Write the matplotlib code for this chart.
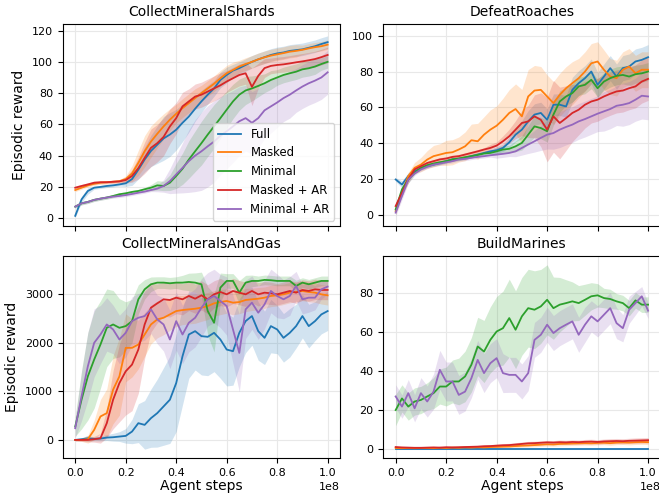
import numpy as np
import matplotlib
matplotlib.use("Agg")
import matplotlib.pyplot as plt

# x grid (agent steps) shared by all series: 0 .. 1e8 in 41 samples
steps = np.linspace(0, 1e8, 41)

labels = ["Full", "Masked", "Minimal", "Masked + AR", "Minimal + AR"]
colors = ["#1f77b4", "#ff7f0e", "#2ca02c", "#d62728", "#9467bd"]

# ---------------- CollectMineralShards ----------------
cms_full = [1.5, 12, 17.4, 19.5, 20, 20.6, 21, 21.6, 22.3, 25, 31, 37.5, 43, 47, 51, 53.5, 56.6, 61, 65, 70,
            74.7, 79, 83, 88.4, 91.6, 94.4, 96, 98, 100, 101.6, 103, 104.4, 105.4, 106, 107, 107.5, 108, 109, 110, 111.4, 112.6]
cms_masked = [18, 19.5, 21, 22, 22.7, 23, 23.3, 23.7, 25, 28.6, 35.4, 42.8, 49, 54, 58.7, 63, 66.8, 70.4, 73.6, 76.8,
              80, 83, 86, 89.5, 92.7, 94.8, 97, 98.6, 100, 101.6, 102.9, 104, 104.8, 105.6, 106.5, 107, 107.7, 108.6, 109.4, 110, 111]
cms_minimal = [7.4, 9.5, 10.4, 11.7, 12.5, 13.2, 14.2, 15.3, 15.9, 16.8, 17.4, 18.5, 19.5, 21, 20.6, 22.7, 27, 31.6, 37.5, 42.8,
               48, 53.5, 58.7, 64, 69.4, 74.7, 79, 81.7, 83, 84.6, 86.3, 88.4, 90, 91.6, 92.7, 93.7, 95.2, 95.9, 97, 98.6, 100]
cms_masked_ar = [19.5, 20.6, 21.6, 22.7, 23, 23, 23.3, 23.5, 24.4, 27, 32, 38.6, 45, 48, 52, 58.7, 64, 71.5, 74.7, 77.8,
                 79, 81, 83, 85, 87.4, 89.5, 91.6, 92.7, 84, 91, 96, 97.4, 98, 98.4, 99, 99.7, 100.3, 101, 101.8, 103, 104.4]
cms_minimal_ar = [7.4, 9.5, 10.4, 11.7, 12.5, 13.2, 13.8, 14.2, 14.8, 15.5, 16.3, 17, 18, 18.9, 20.6, 23.7, 28, 32.2, 36.5, 40,
                  42.8, 46, 49, 52.8, 55.6, 58.7, 62, 64, 61, 64, 69, 71.5, 74, 76.8, 79, 81.7, 84.2, 86.3, 88, 90, 93.3]
cms_full_sd = [1, 2, 2, 1, 1, 1, 1, 1, 2, 4, 6, 8, 10, 12, 14, 14, 13, 12, 10, 8, 7, 6, 5, 5, 5, 4, 4, 4, 4, 4,
               4, 4, 4, 4, 4, 4, 4, 4, 4, 4, 4]
cms_masked_sd = [1, 1, 1, 1, 1, 1, 1, 1, 2, 5, 8, 10, 10, 9, 8, 7, 6, 6, 6, 6, 5, 5, 5, 5, 5, 5, 4, 4, 4, 4,
                 4, 4, 4, 4, 4, 4, 3, 3, 3, 3, 3]
cms_minimal_sd = [1, 1, 1, 1, 1, 1, 1, 1, 1, 1, 1, 1, 2, 3, 3, 5, 8, 10, 12, 13, 14, 14, 14, 13, 12, 11, 10, 9, 8, 7,
                  6, 6, 5, 5, 5, 5, 5, 5, 5, 4, 4]
cms_masked_ar_sd = [1, 1, 1, 1, 1, 1, 1, 1, 2, 4, 7, 10, 12, 12, 12, 11, 10, 9, 8, 8, 8, 8, 8, 8, 7, 7, 7, 7, 12, 8,
                    6, 5, 5, 5, 5, 5, 5, 5, 5, 5, 5]
cms_minimal_ar_sd = [1, 1, 1, 1, 1, 1, 1, 1, 1, 1, 1, 1, 1, 2, 4, 8, 12, 16, 20, 23, 25, 26, 26, 25, 24, 23, 22, 21, 20, 19,
                     18, 17, 16, 15, 15, 14, 14, 14, 14, 14, 14]

# ---------------- DefeatRoaches ----------------
dr_full = [19.8, 17, 21.7, 24.4, 26, 27.2, 28.1, 29, 30, 31, 31.3, 31.9, 32.8, 33.7, 34.6, 35.5, 36.1, 37.4, 40.5, 44.8,
           47.6, 52.2, 56, 56.9, 53.1, 61.5, 61.5, 60.5, 69.8, 73.5, 76.3, 80, 72.6, 77.2, 81.9, 77.2, 81.9, 82.8, 85.6, 86.5, 88]
dr_masked = [2.2, 12.4, 21.7, 26.3, 28.1, 30.9, 32.8, 33.7, 34.6, 35, 36.5, 38.3, 41.7, 41.1, 44.8, 47.6, 49.8, 53.1, 56.9, 59.1,
             55, 66.1, 69.4, 69.8, 66.1, 62.4, 67, 70.7, 73.5, 76.3, 80, 84.6, 85.6, 81, 77.2, 76.3, 81, 82.8, 79, 81, 81]
dr_minimal = [3.1, 14.3, 19.8, 23.5, 26.3, 27.8, 28.7, 29.4, 30, 31, 31.5, 32.2, 32.8, 33.5, 34.3, 34.6, 35.5, 36.5, 36.9, 38.3,
              40.2, 44.8, 49.4, 48.5, 46.7, 56, 63.3, 66.1, 68, 71.7, 72.6, 75.4, 70.7, 74.4, 76.3, 77.6, 78.1, 77.2, 78.5, 79, 80]
dr_masked_ar = [5, 12.4, 19.8, 25.4, 27.2, 29, 30, 31, 31.5, 32.4, 32.8, 33.7, 34.6, 35.5, 36.5, 37.4, 38.7, 41.1, 43.9, 47.6,
                51.3, 52.2, 55, 53.1, 47.6, 55, 51.3, 54, 56.9, 58.7, 61.5, 63.3, 64.3, 66.1, 67.6, 68.9, 69.4, 70.7, 71.7, 74.4, 75.9]
dr_minimal_ar = [1.3, 10.6, 19.8, 23.1, 25.4, 26.9, 28.1, 28.7, 29.4, 30, 31, 31.3, 31.9, 32.4, 32.8, 33.3, 33.7, 34.1, 34.6, 35.5,
                 37.4, 39.3, 41.1, 43, 44.8, 45.7, 47.6, 49.1, 50.4, 52.2, 53.5, 55, 56.5, 57.8, 59.1, 60.9, 61.5, 62.4, 64.3, 66.5, 66.1]
dr_full_sd = [1, 2, 2, 1, 1, 1, 1, 1, 1, 1, 1, 1, 1, 1, 1, 1, 2, 2, 3, 4, 5, 6, 6, 6, 6, 6, 6, 6, 7, 7,
              7, 7, 7, 7, 7, 7, 7, 7, 7, 7, 7]
dr_masked_sd = [2, 2, 2, 3, 4, 5, 6, 6, 7, 7, 7, 8, 9, 10, 10, 11, 11, 12, 13, 14, 15, 15, 14, 13, 12, 12, 12, 12, 12, 11,
                11, 11, 11, 11, 10, 10, 10, 10, 10, 10, 10]
dr_minimal_sd = [2, 2, 2, 1, 1, 1, 1, 1, 1, 1, 1, 1, 1, 1, 1, 1, 2, 2, 2, 3, 4, 5, 6, 6, 6, 6, 6, 5, 5, 5,
                 5, 5, 5, 5, 5, 5, 5, 5, 5, 5, 5]
dr_masked_ar_sd = [2, 2, 2, 1, 1, 1, 1, 1, 1, 1, 1, 1, 1, 1, 1, 2, 2, 3, 4, 5, 7, 9, 12, 15, 18, 20, 20, 18, 16, 14,
                   13, 12, 12, 12, 12, 12, 12, 12, 12, 12, 12]
dr_minimal_ar_sd = [2, 2, 2, 1, 1, 1, 1, 1, 1, 1, 1, 1, 1, 1, 1, 1, 2, 2, 2, 3, 4, 5, 6, 7, 8, 9, 10, 10, 10, 10,
                    10, 10, 10, 11, 11, 11, 12, 12, 12, 13, 13]

# ---------------- CollectMineralsAndGas ----------------
cmg_full = [0, 14, 34, 21, 28, 48, 55, 69, 83, 172, 345, 310, 448, 552, 690, 828, 1172, 1724, 2172, 2241,
            2138, 2124, 2207, 2069, 1862, 1828, 2207, 2448, 2552, 2241, 2103, 2345, 2276, 2103, 2207, 2345, 2552, 2345, 2448, 2586, 2655]
cmg_masked = [0, 0, 14, 207, 483, 552, 1034, 1310, 1897, 1897, 1966, 2172, 2379, 2483, 2517, 2586, 2655, 2676, 2690, 2703,
              2724, 2759, 2814, 2841, 2862, 2828, 2841, 2883, 2897, 2910, 2931, 2966, 2979, 3000, 3034, 3048, 3069, 3048, 3034, 3000, 2979]
cmg_minimal = [276, 828, 1310, 1655, 1966, 2310, 2379, 2310, 2345, 2448, 2897, 3103, 3207, 3241, 3241, 3228, 3241, 3241, 3255, 3241,
               3207, 2655, 2414, 3138, 3276, 3276, 3034, 3241, 3276, 3276, 3297, 3290, 3276, 3276, 3276, 3172, 3241, 3207, 3241, 3276, 3276]
cmg_masked_ar = [0, 0, 0, 14, 34, 345, 828, 1172, 1414, 1552, 1862, 2379, 2724, 2814, 2897, 2883, 2931, 2897, 2966, 2910,
                 2979, 2897, 3000, 3048, 3000, 3069, 3034, 3000, 3069, 3000, 3034, 3021, 3000, 3034, 3069, 3034, 3090, 3069, 3103, 3090, 3090]
cmg_minimal_ar = [241, 897, 1517, 2000, 2172, 2379, 2276, 2069, 2207, 2448, 2517, 2552, 2690, 2483, 2379, 2069, 2448, 2172, 2414, 2517,
                  2724, 2897, 2966, 2862, 2759, 2276, 1793, 2690, 2828, 2621, 2793, 3069, 2966, 2897, 2966, 3172, 2897, 2931, 2931, 3103, 3159]
cmg_full_sd = [20, 30, 60, 40, 50, 60, 80, 100, 150, 250, 400, 500, 600, 700, 800, 900, 1000, 1000, 900, 800,
               800, 800, 800, 800, 750, 700, 700, 650, 600, 600, 550, 550, 500, 500, 500, 450, 450, 450, 400, 400, 400]
cmg_masked_sd = [20, 30, 80, 200, 350, 500, 700, 800, 700, 600, 500, 450, 400, 380, 350, 330, 320, 300, 300, 300,
                 280, 280, 260, 260, 250, 250, 240, 240, 230, 230, 220, 220, 220, 210, 210, 200, 200, 200, 200, 200, 200]
cmg_minimal_sd = [200, 600, 900, 1000, 900, 800, 700, 600, 500, 450, 300, 200, 150, 120, 120, 120, 120, 150, 180, 200,
                  250, 500, 600, 300, 150, 150, 250, 150, 120, 100, 100, 100, 100, 100, 100, 120, 100, 100, 100, 100, 100]
cmg_masked_ar_sd = [20, 30, 40, 60, 100, 300, 600, 800, 900, 950, 900, 700, 500, 400, 350, 350, 330, 320, 300, 300,
                    300, 300, 280, 280, 260, 260, 250, 250, 240, 240, 230, 230, 220, 220, 220, 220, 210, 210, 210, 200, 200]
cmg_minimal_ar_sd = [200, 500, 700, 700, 600, 550, 500, 500, 500, 500, 500, 500, 500, 500, 550, 600, 600, 600, 600, 600,
                     600, 550, 550, 550, 600, 700, 800, 600, 550, 550, 500, 450, 450, 400, 400, 300, 300, 300, 250, 200, 150]

# ---------------- BuildMarines ----------------
bm_full = [0.1, 0.1, 0.1, 0.1, 0.1, 0.1, 0.1, 0.1, 0.1, 0.1, 0.1, 0.1, 0.1, 0.1, 0.1, 0.1, 0.1, 0.1, 0.1, 0.1,
           0.1, 0.1, 0.1, 0.1, 0.1, 0.1, 0.1, 0.1, 0.1, 0.1, 0.1, 0.1, 0.1, 0.1, 0.1, 0.1, 0.1, 0.1, 0.1, 0.1, 0.1]
bm_masked = [0.5, 0.4, 0.5, 0.4, 0.5, 0.5, 0.4, 0.6, 0.5, 0.7, 0.6, 0.8, 0.7, 0.9, 0.8, 1.0, 1.1, 1.2, 1.3, 1.5,
             1.7, 1.8, 2.0, 2.2, 2.4, 2.3, 2.6, 2.7, 2.8, 2.9, 3.0, 2.9, 3.1, 3.2, 3.0, 3.3, 3.4, 3.3, 3.5, 3.6, 3.5]
bm_minimal = [20, 26, 21.8, 24.4, 25.2, 27, 28.7, 32.1, 32.1, 34.7, 34.7, 37.3, 43.3, 52.7, 50.1, 56.1, 60.4, 62.1, 67.3, 61.3,
              68.2, 72.4, 71.6, 73.3, 76.7, 72.4, 74.2, 75, 75.9, 75, 76.7, 78.5, 79, 77.6, 77.1, 75.9, 75, 72.4, 76.4, 74.2, 74.2]
bm_masked_ar = [1.0, 0.8, 0.7, 0.6, 0.6, 0.7, 0.8, 0.7, 0.9, 0.8, 0.9, 1.0, 1.1, 1.2, 1.4, 1.5, 1.7, 1.9, 2.0, 2.3,
                2.6, 2.9, 3.0, 3.2, 3.4, 3.3, 3.5, 3.4, 3.6, 3.5, 3.7, 3.8, 3.6, 3.9, 4.0, 4.1, 4.0, 4.2, 4.3, 4.4, 4.5]
bm_minimal_ar = [27, 21.8, 28.7, 20.9, 28.7, 24.4, 29.5, 40.7, 34.7, 34.7, 27.8, 29.5, 36.4, 45.8, 39, 44.1, 46.7, 39, 38.1, 38.1,
                 34.7, 39, 56.1, 58.7, 63.9, 59.6, 62.1, 63.9, 65.6, 58.7, 63.9, 68.2, 65.6, 69, 72.4, 64.7, 62.1, 71.6, 75, 78.5, 71.1]
bm_full_sd = [0.1] * 41
bm_masked_sd = [0.3, 0.3, 0.3, 0.3, 0.3, 0.3, 0.3, 0.3, 0.4, 0.4, 0.4, 0.4, 0.5, 0.5, 0.5, 0.6, 0.6, 0.7, 0.7, 0.8,
                0.8, 0.8, 0.9, 0.9, 0.9, 0.9, 1.0, 1.0, 1.0, 1.0, 1.0, 1.0, 1.0, 1.0, 1.1, 1.1, 1.1, 1.2, 1.2, 1.2, 1.2]
bm_minimal_sd = [8, 7, 7, 7, 7, 7, 8, 9, 10, 11, 12, 13, 14, 15, 16, 17, 18, 19, 20, 20,
                 20, 20, 20, 19, 18, 16, 14, 12, 10, 9, 8, 7, 6, 5, 5, 4, 4, 4, 4, 4, 4]
bm_masked_ar_sd = [0.4, 0.4, 0.4, 0.4, 0.4, 0.4, 0.4, 0.4, 0.4, 0.5, 0.5, 0.5, 0.6, 0.6, 0.7, 0.7, 0.8, 0.8, 0.9, 0.9,
                   1.0, 1.0, 1.0, 1.0, 1.0, 1.0, 1.1, 1.1, 1.1, 1.1, 1.2, 1.2, 1.2, 1.2, 1.3, 1.3, 1.3, 1.3, 1.4, 1.4, 1.4]
bm_minimal_ar_sd = [6, 6, 7, 7, 8, 8, 9, 10, 10, 10, 10, 10, 10, 10, 10, 10, 10, 10, 9, 9,
                    9, 9, 9, 9, 9, 9, 9, 9, 9, 9, 9, 8, 8, 8, 8, 8, 7, 7, 6, 5, 4]

xticks = [0, 0.2e8, 0.4e8, 0.6e8, 0.8e8, 1.0e8]
cms_yticks = [0, 20, 40, 60, 80, 100, 120]
dr_yticks = [0, 20, 40, 60, 80, 100]
cmg_yticks = [0, 1000, 2000, 3000]
bm_yticks = [0, 20, 40, 60, 80]

panels = [
    ("CollectMineralShards",
     [cms_full, cms_masked, cms_minimal, cms_masked_ar, cms_minimal_ar],
     [cms_full_sd, cms_masked_sd, cms_minimal_sd, cms_masked_ar_sd, cms_minimal_ar_sd],
     (-5.3, 124.2), cms_yticks),
    ("DefeatRoaches",
     [dr_full, dr_masked, dr_minimal, dr_masked_ar, dr_minimal_ar],
     [dr_full_sd, dr_masked_sd, dr_minimal_sd, dr_masked_ar_sd, dr_minimal_ar_sd],
     (-6.4, 106.5), dr_yticks),
    ("CollectMineralsAndGas",
     [cmg_full, cmg_masked, cmg_minimal, cmg_masked_ar, cmg_minimal_ar],
     [cmg_full_sd, cmg_masked_sd, cmg_minimal_sd, cmg_masked_ar_sd, cmg_minimal_ar_sd],
     (-379, 3793), cmg_yticks),
    ("BuildMarines",
     [bm_full, bm_masked, bm_minimal, bm_masked_ar, bm_minimal_ar],
     [bm_full_sd, bm_masked_sd, bm_minimal_sd, bm_masked_ar_sd, bm_minimal_ar_sd],
     (-4.8, 99.3), bm_yticks),
]

plt.rcParams["font.family"] = ["DejaVu Sans"]
fig, axes = plt.subplots(2, 2, figsize=(6.59, 4.96), dpi=100, sharex=True)
fig.subplots_adjust(left=0.095, right=1.0026, top=0.9516, bottom=0.076, wspace=0.154, hspace=0.145)

for ax, (title, series, sds, ylim, yticks) in zip(axes.flat, panels):
    for lab, col, y, sd in zip(labels, colors, series, sds):
        y = np.asarray(y, float)
        sd = np.asarray(sd, float)
        ax.fill_between(steps, y - sd, y + sd, color=col, alpha=0.2, lw=0)
        ax.plot(steps, y, color=col, lw=1.3, label=lab)
    ax.set_title(title, fontsize=10)
    ax.set_yticks(yticks)
    ax.set_ylim(*ylim)
    ax.grid(True, color="#e8e8e8", lw=0.8)
    ax.set_axisbelow(True)
    ax.tick_params(labelsize=8)
    ax.xaxis.get_offset_text().set_fontsize(8)
    for s in ax.spines.values():
        s.set_color("black")

axes[0, 0].set_ylabel("Episodic reward", fontsize=10)
axes[1, 0].set_ylabel("Episodic reward", fontsize=10)
axes[1, 0].set_xlabel("Agent steps", fontsize=10, labelpad=1)
axes[1, 1].set_xlabel("Agent steps", fontsize=10, labelpad=1)
axes[0, 0].set_xticks(xticks)
axes[0, 0].legend(loc="lower right", fontsize=8.4, framealpha=0.8)

fig.savefig("out.png", dpi=100)
